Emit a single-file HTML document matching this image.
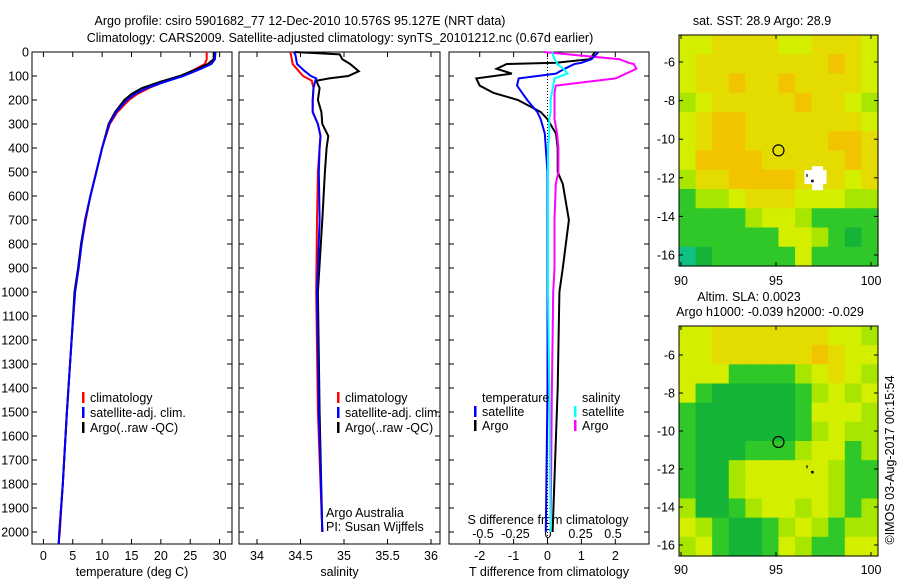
<!DOCTYPE html>
<html><head><meta charset="utf-8"><style>
body{margin:0;background:#fff}
svg{display:block;font-family:"Liberation Sans",sans-serif}
text{font-size:12.5px;fill:#000}
</style></head><body>
<svg id="fig" width="900" height="580" viewBox="0 0 900 580">
<text x="300" y="25" text-anchor="middle">Argo profile: csiro 5901682_77 12-Dec-2010 10.576S 95.127E (NRT data)</text>
<text x="340" y="42" text-anchor="middle">Climatology: CARS2009. Satellite-adjusted climatology: synTS_20101212.nc (0.67d earlier)</text>
<g id="plots"></g>
<text x="762" y="25" text-anchor="middle">sat. SST: 28.9 Argo: 28.9</text>
<text x="749" y="301" text-anchor="middle">Altim. SLA: 0.0023</text>
<text x="770" y="316" text-anchor="middle">Argo h1000: -0.039 h2000: -0.029</text>
<text transform="translate(894,460) rotate(-90)" text-anchor="middle">©IMOS 03-Aug-2017 00:15:54</text>
<text x="326" y="517">Argo Australia</text>
<text x="326" y="531">PI: Susan Wijffels</text>
</svg>
<script>
// depths (dbar)
const depthT = [0,30,50,70,100,125,150,175,200,250,300,400,500,600,700,800,900,1000,1200,1500,1800,2000,2050];
const tempClim = [27.8,27.8,27.5,26.0,23.5,20.5,18.0,16.0,14.6,12.6,11.3,10.0,9.0,8.0,7.2,6.5,6.0,5.4,4.8,4.0,3.3,2.8,2.6];
const tempSat  = [29.3,29.2,28.6,26.8,23.8,20.6,17.6,15.6,14.2,12.4,11.2,10.0,9.0,8.0,7.1,6.5,6.0,5.4,4.8,4.0,3.3,2.7,2.6];
const tempArgo = [29.0,29.0,28.0,26.2,23.2,19.8,16.8,15.0,13.8,12.2,11.1,10.0,9.0,8.0,7.1,6.4,5.9,5.3,4.8,4.0,3.3,2.7,2.6];
const depthS = [0,10,30,50,80,100,110,120,150,200,250,300,350,400,500,700,1000,1500,2000];
const salClim = [34.38,34.39,34.40,34.41,34.48,34.53,34.58,34.63,34.65,34.64,34.64,34.70,34.73,34.72,34.70,34.69,34.68,34.70,34.75];
const salSat  = [34.42,34.44,34.45,34.46,34.55,34.62,34.68,34.67,34.65,34.64,34.64,34.70,34.73,34.72,34.71,34.72,34.69,34.71,34.75];
const salArgo = [34.43,34.95,34.98,35.07,35.17,35.05,34.83,34.68,34.72,34.70,34.74,34.75,34.82,34.80,34.78,34.75,34.70,34.72,34.75];
const depthD = [0,30,45,50,70,90,110,140,170,200,250,280,340,400,500,550,700,900,1000,1400,2000];
const tdiffSat  = [1.5,1.3,1.0,0.8,0.5,0.25,-0.85,-0.9,-0.75,-0.6,-0.3,-0.2,-0.08,-0.05,0.0,0.0,0.0,0.0,0.0,0.0,-0.05];
const tdiffArgo = [1.4,1.25,0.25,-1.2,-1.5,-1.05,-2.1,-2.0,-1.6,-0.87,-0.2,0.0,0.25,0.3,0.3,0.45,0.63,0.45,0.35,0.3,0.15];
const sdiffSat  = [0.03,0.05,0.07,0.07,0.12,0.15,0.05,0.04,0.03,0.02,0.02,0.01,0.01,0.0,0.0,0.0,0.0,0.0,0.0,0.01,0.02];
const sdiffArgo = [-0.03,0.55,0.62,0.66,0.68,0.60,0.52,0.06,0.05,0.05,0.05,0.05,0.07,0.08,0.08,0.06,0.05,0.05,0.04,0.03,0.02];
const depthTicks = [0,100,200,300,400,500,600,700,800,900,1000,1100,1200,1300,1400,1500,1600,1700,1800,1900,2000];
const tempTicks = [0,5,10,15,20,25,30];
const salTicks = [34,34.5,35,35.5,36];
const tdTicks = [-2,-1,0,1,2];
const sdTicks = [-0.5,-0.25,0,0.25,0.5];
const sdTickLabels = ["-0.5","-0.25","0","0.25","0.5"];
// map colour grids (rows north->south, cols west->east)
const sstGrid = ["yyYYYYyyYYYy","yYYYYYYYYOYy","yYYOYYOYYYYy","LyYYYYYOYYyL","yYOOYYYYYYYy","yYOOYYYYYOOY","yOOOOYYYYYOY","LYYOOOOYYYyY","GLLyYYYyyyLL","GGGGLyyLGGGG","GGGGGGyyLGDG","TDGGGGGyGGGG"];
const slaGrid = ["yyYYYYYYYyyL","yyYYYYYYOYyy","yyyGGGGLyYyL","yGDDDDDGLyLy","GDDDDDDGyyyL","GDDDDDDGLyLL","GDDDGGGLyyGL","GDDLyyyyyLGG","GDDLyyyyyLGG","LDDGLyyLyLGL","yLGDDGLyLGLL","LyGDDGyLGGyy"];
const palette = {O:"#f2c400",Y:"#e4dc00",y:"#d4ee00",L:"#a8e600",G:"#30c828",D:"#14b436",T:"#10c080"};

const NS="http://www.w3.org/2000/svg";
const root=document.getElementById('plots');
function mk(tag,attrs,parent){const e=document.createElementNS(NS,tag);for(const k in attrs)e.setAttribute(k,attrs[k]);(parent||root).appendChild(e);return e;}
function txt(x,y,s,anchor,parent){const t=mk('text',{x:x,y:y,'text-anchor':anchor||'middle'},parent);t.textContent=s;return t;}
const Y0=52, YPER=0.24, TOP=52, BOT=544;
const yD=d=>Y0+d*YPER;
function panel(name,x0,x1,xs,ticks,labels,labY,title,titleY){
  const g=mk('g',{});
  
  
  const r=mk('rect',{x:x0,y:TOP,width:x1-x0,height:BOT-TOP,fill:'none',stroke:'#000','stroke-width':1},g);
  
  
  depthTicks.forEach(d=>{const y=yD(d);mk('line',{x1:x0,y1:y,x2:x0+5,y2:y,stroke:'#000'},g);mk('line',{x1:x1,y1:y,x2:x1-5,y2:y,stroke:'#000'},g);});
  ticks.forEach((v,i)=>{const x=xs(v);mk('line',{x1:x,y1:BOT,x2:x,y2:BOT-5,stroke:'#000'},g);mk('line',{x1:x,y1:TOP,x2:x,y2:TOP+5,stroke:'#000'},g);
    const t=txt(x,labY,labels?labels[i]:String(v),'middle',g);
    
    });
  const tt=txt((x0+x1)/2,titleY,title,'middle',g);
  
  
  return g;
}
function line(g,depths,vals,xs,color,name,w){
  const pts=depths.map((d,i)=>xs(vals[i]).toFixed(1)+','+yD(d).toFixed(1)).join(' ');
  const p=mk('polyline',{points:pts,fill:'none',stroke:color,'stroke-width':w||2,'stroke-linejoin':'miter'},g);
  
  
}
depthTicks.forEach(d=>{const t=txt(29,yD(d)+4.5,String(d),'end');
  
  });
const xT=v=>43.4+v*5.873;
const g1=panel('temperature-panel',32,232,xT,tempTicks,null,560,'temperature (deg C)',576);
line(g1,depthT,tempClim,xT,'#f00','temp-climatology-line');
line(g1,depthT,tempArgo,xT,'#000','temp-argo-line');
line(g1,depthT,tempSat,xT,'#00f','temp-satellite-line');
const xS=v=>257+(v-34)*87;
const g2=panel('salinity-panel',239,440,xS,salTicks,null,560,'salinity',576);
line(g2,depthS,salClim,xS,'#f00','sal-climatology-line');
line(g2,depthS,salArgo,xS,'#000','sal-argo-line');
line(g2,depthS,salSat,xS,'#00f','sal-satellite-line');
const xTD=v=>547.5+v*33.9;
const xSD=v=>548+v*130;
const g3=panel('difference-panel',449,649,xTD,tdTicks,null,560,'T difference from climatology',576);
sdTicks.forEach((v,i)=>{const t=txt(xSD(v),538,sdTickLabels[i],'middle',g3);
  
  });
const st=txt(548,524,'S difference from climatology','middle',g3);


mk('line',{x1:xTD(0),y1:TOP,x2:xTD(0),y2:BOT,stroke:'#000','stroke-dasharray':'1,2'},g3);
line(g3,depthD,tdiffArgo,xTD,'#000','tdiff-argo-line');
line(g3,depthD,sdiffArgo,xSD,'#f0f','sdiff-argo-line');
line(g3,depthD,tdiffSat,xTD,'#00f','tdiff-satellite-line');
line(g3,depthD,sdiffSat,xSD,'#0ff','sdiff-satellite-line');
function leg(x,y,color,label,name){const g=mk('g',{});
  
  
  if(color)mk('rect',{x:x-8,y:y-10,width:2.5,height:11,fill:color},g);
  txt(x,y,label,'start',g);}
[[90,'#f00','climatology'],[90,'#00f','satellite-adj. clim.'],[90,'#000','Argo(..raw -QC)']].forEach((l,i)=>leg(l[0],402+i*15,l[1],l[2],'legend-entry'));
[[345,'#f00','climatology'],[345,'#00f','satellite-adj. clim.'],[345,'#000','Argo(..raw -QC)']].forEach((l,i)=>leg(l[0],402+i*15,l[1],l[2],'legend-entry'));
leg(482,402,null,'temperature','legend-header-temperature');
leg(482,416,'#00f','satellite','legend-entry');
leg(482,430,'#000','Argo','legend-entry');
leg(582,402,null,'salinity','legend-header-salinity');
leg(582,416,'#0ff','satellite','legend-entry');
leg(582,430,'#f0f','Argo','legend-entry');
function map(name,grid,top,bot,lat6y,perDeg,lonLabY,white){
  const x0=679,x1=878;
  const g=mk('g',{});
  
  
  const rows=grid.length,cols=grid[0].length;
  const cw=(x1-x0)/cols,ch=(bot-top)/rows;
  grid.forEach((row,r)=>{[...row].forEach((c,k)=>{
    const cell=mk('rect',{x:x0+k*cw,y:top+r*ch,width:cw+0.6,height:ch+0.6,fill:palette[c]},g);
    
    });});
  const lonX=v=>681+(v-90)*19;
  const latY=v=>lat6y+(-6-v)*perDeg;
  if(white){mk('rect',{x:lonX(96.5),y:latY(-11.6),width:22,height:14,fill:'#fff'},g);mk('rect',{x:lonX(96.9),y:latY(-11.4),width:11,height:24,fill:'#fff'},g);}
  mk('rect',{x:x0,y:top,width:x1-x0,height:bot-top,fill:'none',stroke:'#000'},g);
  [90,95,100].forEach(v=>{const x=lonX(v);mk('line',{x1:x,y1:bot,x2:x,y2:bot-4,stroke:'#000'},g);mk('line',{x1:x,y1:top,x2:x,y2:top+4,stroke:'#000'},g);
    const t=txt(x,lonLabY,String(v),'middle',g);
    
    });
  [-6,-8,-10,-12,-14,-16].forEach(v=>{const y=latY(v);mk('line',{x1:x0,y1:y,x2:x0+4,y2:y,stroke:'#000'},g);mk('line',{x1:x1,y1:y,x2:x1-4,y2:y,stroke:'#000'},g);
    const t=txt(675,y+4.5,String(v),'end',g);
    
    });
  const c=mk('circle',{cx:lonX(95.13),cy:latY(-10.58),r:5.5,fill:'none',stroke:'#000','stroke-width':1.2},g);
  
  
  mk('rect',{x:lonX(96.6),y:latY(-11.8),width:1.2,height:3,fill:'#000'},g);
  mk('rect',{x:lonX(96.85),y:latY(-12.1),width:2.5,height:2.5,fill:'#000'},g);
}
map('sst-map',sstGrid,35,266,62,19.3,285,true);
map('sla-map',slaGrid,326,556,355,19,574,false);
</script>
</body></html>
